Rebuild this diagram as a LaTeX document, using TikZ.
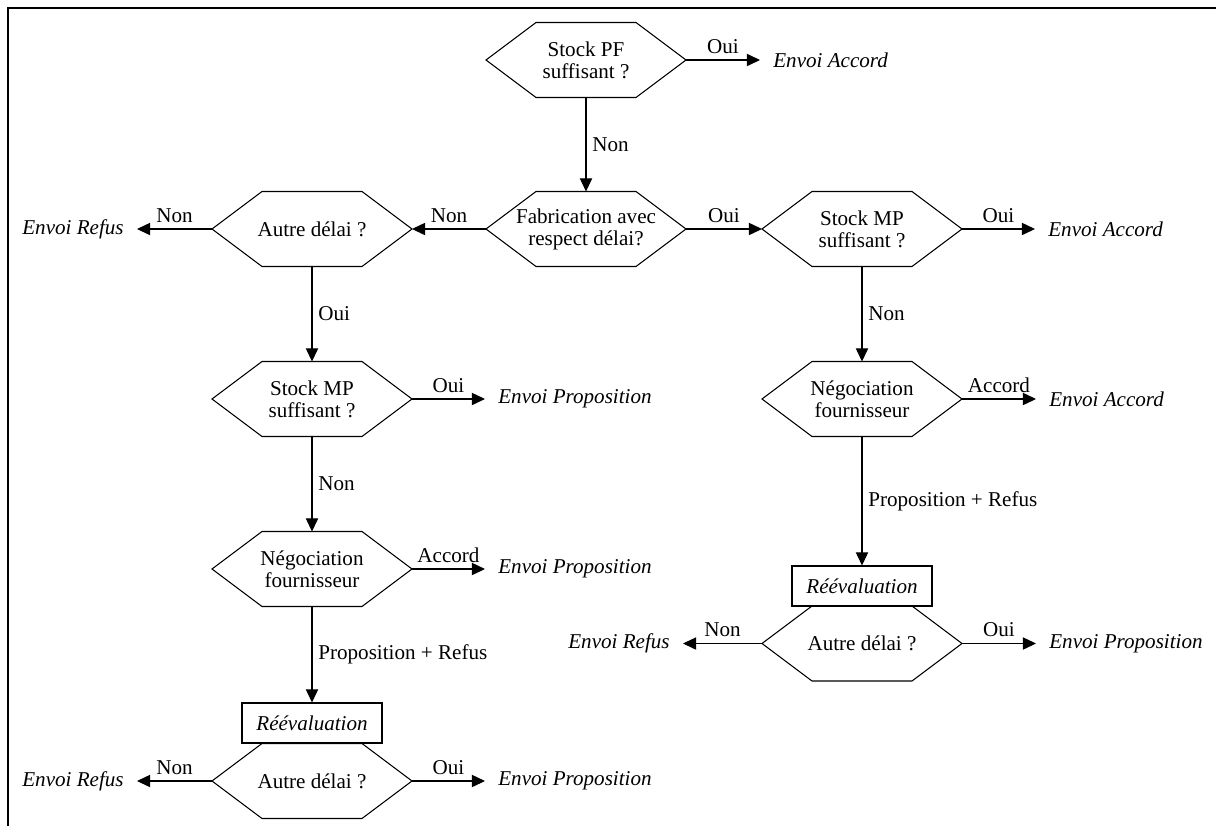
\documentclass[tikz,border=0pt]{standalone}
\usepackage{fontspec}
\setmainfont{Liberation Serif}
\usetikzlibrary{arrows.meta}

\begin{document}
\begin{tikzpicture}[
        every node/.style={font=\fontsize{12}{12.5}\selectfont},
        hexa/.style={align=center, minimum width=4cm, minimum height=1.5cm,
        inner sep=0pt, outer sep=0pt},
        boite/.style={draw, font=\fontsize{12}{12.5}\selectfont\itshape,
        minimum width=2.8cm, minimum height=0.8cm, line width=0.6pt},
        issue/.style={font=\fontsize{12}{12.5}\selectfont\itshape, inner xsep=7.4pt},
        fleche/.style={line width=0.6pt, -{Triangle[length=7.5pt, width=7pt]}}
    ]
        \useasboundingbox (0,0) rectangle (24.32,-16.5);
        \draw[line width=0.6pt] (0.16,-16.6) -- (0.16,-0.16) -- (24.4,-0.16);

        % colonne centrale
        \node[hexa] (pf) at (11.72,-1.2) {Stock PF\\suffisant ?};
        \node[hexa] (fab) at (11.72,-4.58) {Fabrication avec\\respect délai?};
        \node[issue, anchor=west] (okPF) at (15.2,-1.2) {Envoi Accord};

        % colonne gauche
        \node[hexa] (autreA) at (6.24,-4.58) {Autre délai ?};
        \node[hexa] (mpL) at (6.24,-7.98) {Stock MP\\suffisant ?};
        \node[hexa] (negoL) at (6.24,-11.38) {Négociation\\fournisseur};
        \node[boite] (reevL) at (6.24,-14.46) {Réévaluation};
        \node[hexa] (autreL) at (6.24,-15.62) {Autre délai ?};
        \node[issue, anchor=east] (refusA) at (2.74,-4.58) {Envoi Refus};
        \node[issue, anchor=west] (propMPL) at (9.7,-7.98) {Envoi Proposition};
        \node[issue, anchor=west] (propNegoL) at (9.7,-11.38) {Envoi Proposition};
        \node[issue, anchor=east] (refusL) at (2.74,-15.62) {Envoi Refus};
        \node[issue, anchor=west] (propL) at (9.7,-15.62) {Envoi Proposition};

        % colonne droite
        \node[hexa] (mpR) at (17.24,-4.58) {Stock MP\\suffisant ?};
        \node[hexa] (negoR) at (17.24,-7.98) {Négociation\\fournisseur};
        \node[boite] (reevR) at (17.24,-11.72) {Réévaluation};
        \node[hexa] (autreR) at (17.24,-12.87) {Autre délai ?};
        \node[issue, anchor=west] (okMPR) at (20.7,-4.58) {Envoi Accord};
        \node[issue, anchor=west] (okNegoR) at (20.72,-7.98) {Envoi Accord};
        \node[issue, anchor=east] (refusR) at (13.66,-12.87) {Envoi Refus};
        \node[issue, anchor=west] (propR) at (20.72,-12.87) {Envoi Proposition};

        % contours hexagonaux
        \foreach \n in {pf,fab,autreA,mpL,negoL,autreL,mpR,negoR,autreR}
            \draw[line width=0.6pt] (\n.west) -- ([xshift=1cm]\n.north west)
            -- ([xshift=-1cm]\n.north east) -- (\n.east)
            -- ([xshift=-1cm]\n.south east) -- ([xshift=1cm]\n.south west) -- cycle;

        \draw[fleche] (pf.east) -- node[above] {Oui} (okPF.west);
        \draw[fleche] (pf.south) -- node[right] {Non} (fab.north);
        \draw[fleche] (fab.west) -- node[above] {Non} (autreA.east);
        \draw[fleche] (fab.east) -- node[above] {Oui} (mpR.west);

        \draw[fleche] (autreA.west) -- node[above] {Non} (refusA.east);
        \draw[fleche] (autreA.south) -- node[right] {Oui} (mpL.north);
        \draw[fleche] (mpL.east) -- node[above] {Oui} (propMPL.west);
        \draw[fleche] (mpL.south) -- node[right] {Non} (negoL.north);
        \draw[fleche] (negoL.east) -- node[above] {Accord} (propNegoL.west);
        \draw[fleche] (negoL.south) -- node[right] {Proposition + Refus} (reevL.north);
        \draw[fleche] (autreL.west) -- node[above] {Non} (refusL.east);
        \draw[fleche] (autreL.east) -- node[above] {Oui} (propL.west);

        \draw[fleche] (mpR.east) -- node[above] {Oui} (okMPR.west);
        \draw[fleche] (mpR.south) -- node[right] {Non} (negoR.north);
        \draw[fleche] (negoR.east) -- node[above] {Accord} (okNegoR.west);
        \draw[fleche] (negoR.south) -- node[right] {Proposition + Refus} (reevR.north);
        \draw[fleche] (autreR.west) -- node[above] {Non} (refusR.east);
        \draw[fleche] (autreR.east) -- node[above] {Oui} (propR.west);
    \end{tikzpicture}
\end{document}
